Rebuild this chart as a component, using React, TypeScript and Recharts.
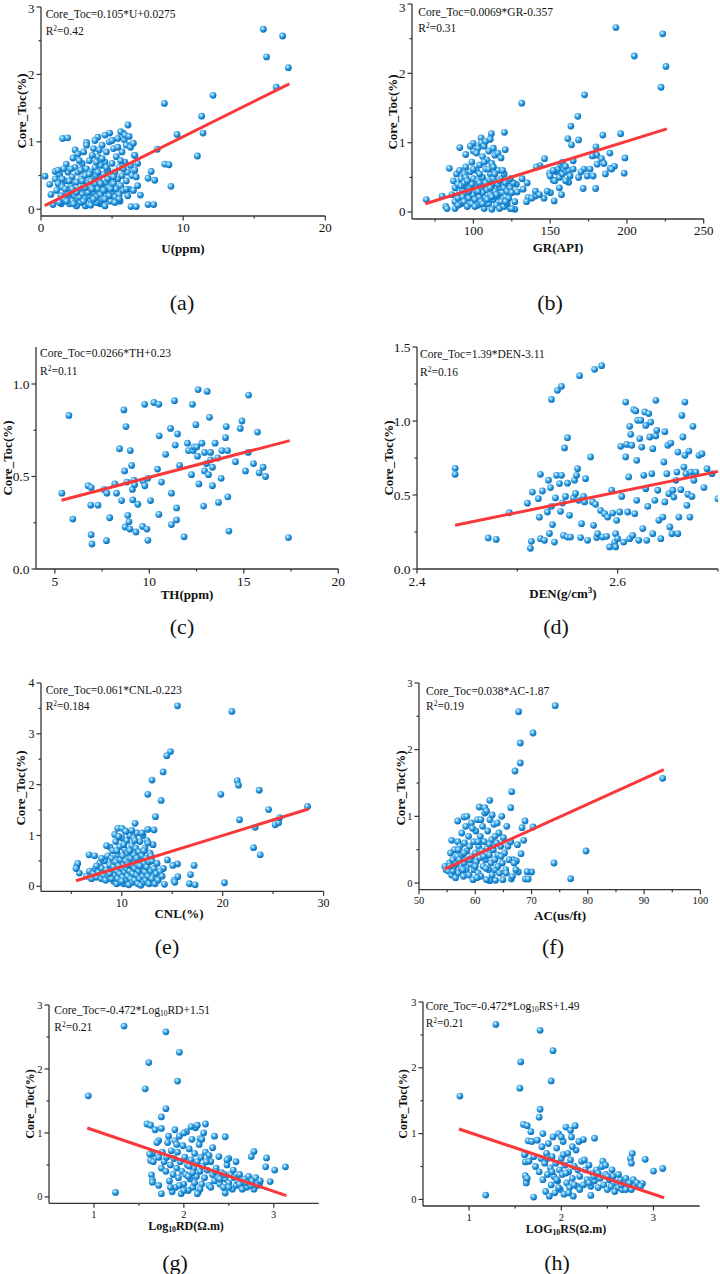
import React from "react";
import { Scatter, ScatterChart, XAxis, YAxis } from "recharts";

const FONT = "'Liberation Serif', 'Times New Roman', serif";

type Pt = [number, number];

// (a) U(ppm) vs Core_Toc
const uToc: Pt[] = [
  [15.64, 2.67], [17.0, 2.57], [15.87, 2.26], [17.4, 2.1], [16.55, 1.81], [12.1, 1.69], [8.68, 1.57],
  [11.3, 1.38], [11.4, 1.13], [9.57, 1.11], [11.0, 0.79], [8.18, 0.89], [8.7, 0.67], [9.0, 0.66],
  [9.14, 0.34], [7.53, 0.46], [7.75, 0.56], [8.0, 0.43], [7.53, 0.07], [7.93, 0.07], [6.99, 0.21],
  [6.57, 0.8], [6.12, 1.25], [0.28, 0.49], [0.61, 0.37], [0.7, 0.22], [0.84, 0.07], [1.52, 1.05],
  [1.88, 1.06], [1.0, 0.56], [1.43, 0.08], [1.78, 0.67], [2.25, 0.76], [3.2, 0.99], [4.0, 1.07],
  [4.83, 1.13], [5.79, 1.13], [5.86, 1.03], [6.35, 0.96], [6.33, 0.04], [6.7, 0.04], [5.56, 0.12],
  [4.17, 0.08], [3.12, 0.05],
  [1.0, 0.45], [1.2, 0.38], [1.3, 0.52], [1.1, 0.28], [1.4, 0.2], [1.5, 0.33], [1.6, 0.15], [1.7, 0.42],
  [1.8, 0.25], [1.9, 0.55], [1.6, 0.6], [2.0, 0.18], [2.1, 0.35], [2.2, 0.12], [2.2, 0.48], [2.3, 0.28],
  [2.4, 0.62], [2.4, 0.2], [2.5, 0.4], [2.6, 0.15], [2.6, 0.55], [2.7, 0.3], [2.8, 0.1], [2.8, 0.45],
  [2.9, 0.22], [2.9, 0.68], [3.0, 0.35], [3.0, 0.85], [3.1, 0.15], [3.1, 0.5], [3.2, 0.28], [3.2, 0.6],
  [3.3, 0.08], [3.3, 0.4], [3.4, 0.2], [3.4, 0.72], [3.5, 0.32], [3.5, 0.55], [3.6, 0.12], [3.6, 0.45],
  [3.7, 0.25], [3.7, 0.9], [3.8, 0.38], [3.8, 0.62], [3.9, 0.18], [3.9, 0.5], [4.0, 0.3], [4.0, 0.78],
  [4.1, 0.1], [4.1, 0.42], [4.2, 0.22], [4.2, 0.65], [4.3, 0.35], [4.3, 0.95], [4.4, 0.15], [4.4, 0.52],
  [4.5, 0.28], [4.5, 0.7], [4.6, 0.4], [4.6, 0.85], [4.7, 0.2], [4.7, 0.58], [4.8, 0.32], [4.8, 1.0],
  [4.9, 0.12], [4.9, 0.48], [5.0, 0.25], [5.0, 0.68], [5.1, 0.38], [5.1, 0.9], [5.2, 0.18], [5.2, 0.55],
  [5.3, 0.3], [5.3, 0.78], [5.4, 0.45], [5.4, 1.05], [5.5, 0.22], [5.5, 0.62], [5.6, 0.35], [5.7, 0.5],
  [5.7, 0.85], [5.8, 0.28], [5.9, 0.7], [6.0, 0.42], [6.0, 0.95], [6.1, 0.55], [6.2, 0.3], [6.3, 0.65],
  [6.4, 0.5], [6.5, 0.28], [6.6, 0.8], [6.7, 0.48], [6.8, 0.68], [1.3, 0.1], [2.0, 0.08], [2.5, 0.05],
  [3.5, 0.06], [4.5, 0.05], [2.7, 0.18], [3.0, 0.12], [3.3, 0.25], [3.6, 0.3], [3.9, 0.1], [4.2, 0.38],
  [4.5, 0.15], [4.8, 0.2], [2.3, 0.08], [1.8, 0.12], [2.1, 0.6], [2.4, 0.88], [2.6, 0.82], [3.2, 0.95],
  [3.8, 1.02], [4.1, 0.88], [4.5, 1.1], [5.0, 1.02], [5.6, 1.15], [5.9, 1.1], [6.2, 1.08], [5.4, 0.92],
  [4.6, 0.62], [3.9, 0.7], [3.4, 0.52], [2.9, 0.42], [2.5, 0.25], [2.2, 0.3], [1.9, 0.22], [1.5, 0.45],
  [1.2, 0.58], [5.8, 0.6], [6.3, 0.92], [6.5, 0.98], [6.8, 0.35], [6.6, 0.58], [6.1, 0.2], [5.5, 0.15],
  [5.2, 0.1], [4.9, 0.3], [4.4, 0.28], [4.0, 0.55], [3.7, 0.15], [3.1, 0.32], [2.8, 0.58], [2.0, 0.42],
  [1.7, 0.3], [4.3, 0.75], [3.6, 0.8], [5.1, 0.48], [4.7, 0.45], [3.5, 0.42], [2.7, 0.72], [5.6, 0.72],
  [6.0, 0.3],
];
const uFit: Pt[] = [[0.26, 0.055], [17.47, 1.86]];

// (b) GR(API)
const grToc: Pt[] = [
  [192.8, 2.66], [223.3, 2.57], [204.8, 2.25], [225.4, 2.1], [222.2, 1.8], [172.4, 1.69], [131.5, 1.57],
  [168, 1.38], [163.5, 1.24], [161.5, 1.06], [163.9, 0.97], [168.5, 1.04], [184.3, 1.11], [195.9, 1.13],
  [179.8, 0.94], [180.4, 0.82], [177.4, 0.81], [188.9, 0.85], [183.5, 0.77], [198.7, 0.78], [198.2, 0.56],
  [191.9, 0.66], [189, 0.63], [180.6, 0.69], [172, 0.62], [168.5, 0.5], [174.1, 0.52], [178, 0.52],
  [171.5, 0.34], [179.6, 0.34], [165, 0.74], [162, 0.43], [157.4, 0.25], [152.6, 0.16], [150.2, 0.28],
  [146.3, 0.77], [143.3, 0.67], [140.4, 0.23], [140.4, 0.3], [146, 0.2], [135.6, 0.21], [134.6, 0.15],
  [132.4, 0.33], [128.5, 0.29], [128, 0.4], [131.7, 0.48], [149.6, 0.56], [152, 0.46], [69.3, 0.18],
  [79.6, 0.23], [82, 0.08], [82.8, 0.05], [84.3, 0.63], [91.1, 0.93], [95, 0.83], [99.8, 0.99],
  [105, 1.07], [111.7, 1.13], [120.2, 1.15], [120.7, 0.9], [124, 0.05], [127, 0.04],
  [86, 0.25], [87, 0.45], [88, 0.15], [88, 0.35], [89, 0.55], [90, 0.2], [90, 0.4], [91, 0.28], [91, 0.6],
  [92, 0.12], [92, 0.48], [93, 0.32], [93, 0.22], [94, 0.55], [94, 0.15], [95, 0.38], [95, 0.65], [96, 0.08],
  [96, 0.28], [97, 0.45], [97, 0.2], [98, 0.58], [98, 0.35], [99, 0.12], [99, 0.72], [100, 0.25], [100, 0.48],
  [100, 0.88], [101, 0.18], [101, 0.38], [102, 0.6], [102, 0.3], [103, 0.1], [103, 0.45], [103, 0.92],
  [104, 0.22], [104, 0.68], [105, 0.35], [105, 0.15], [105, 1.0], [106, 0.5], [106, 0.28], [106, 0.8],
  [107, 0.05], [107, 0.4], [107, 0.95], [108, 0.2], [108, 0.62], [108, 1.02], [109, 0.32], [109, 0.75],
  [110, 0.12], [110, 0.45], [110, 0.88], [111, 0.25], [111, 0.55], [111, 1.05], [112, 0.38], [112, 0.7],
  [112, 0.04], [113, 0.18], [113, 0.48], [113, 0.92], [114, 0.3], [114, 0.82], [115, 0.1], [115, 0.42],
  [116, 0.22], [116, 0.6], [116, 0.85], [117, 0.35], [117, 0.05], [118, 0.48], [118, 0.15], [118, 0.78],
  [119, 0.28], [119, 0.4], [120, 0.08], [120, 0.35], [120, 0.55], [121, 0.22], [121, 0.42], [122, 0.3],
  [122, 0.12], [123, 0.45], [123, 0.2], [124, 0.35], [125, 0.05], [125, 0.28], [126, 0.42], [127, 0.15],
  [98, 0.95], [102, 0.85], [104, 0.42], [109, 0.18], [114, 0.55], [97, 0.3], [101, 0.08], [106, 0.12],
  [110, 0.62], [115, 0.25], [119, 0.6], [92, 0.38], [95, 0.5], [99, 0.4], [104, 0.55], [108, 0.42],
  [112, 0.22], [116, 0.4], [121, 0.15], [124, 0.48], [88, 0.05], [103, 0.3], [107, 0.72], [111, 0.35],
  [113, 0.65], [117, 0.45], [100, 0.62], [94, 0.42], [90, 0.1], [96, 0.45],
  [135, 0.42], [138, 0.2], [141, 0.65], [143, 0.25], [148, 0.3], [150, 0.52], [153, 0.45], [154, 0.58],
  [155, 0.62], [156, 0.5], [157, 0.68], [158, 0.55], [159, 0.62], [160, 0.45], [161, 0.58], [162, 0.6],
  [156, 0.35], [158, 0.72], [160, 0.66], [152, 0.6], [163, 0.52], [165, 0.62], [170, 0.58], [176, 0.62],
  [185, 0.7], [190, 0.62], [186, 0.55],
];
const grFit: Pt[] = [[68.7, 0.12], [226, 1.2]];

// (c) TH(ppm)
const thToc: Pt[] = [
  [5.37, 0.41], [5.74, 0.83], [5.95, 0.27], [6.76, 0.45], [6.92, 0.44], [6.9, 0.345], [6.92, 0.185],
  [6.96, 0.135], [7.28, 0.345], [7.6, 0.43], [7.75, 0.41], [7.73, 0.153], [7.9, 0.277], [8.17, 0.46],
  [8.26, 0.41], [8.42, 0.65], [8.53, 0.37], [8.65, 0.86], [8.69, 0.53], [8.72, 0.227], [8.76, 0.77],
  [8.81, 0.47], [8.86, 0.29], [8.92, 0.255], [8.99, 0.64], [8.97, 0.216], [9.06, 0.56], [9.1, 0.43],
  [9.12, 0.374], [9.18, 0.48], [9.22, 0.455], [9.29, 0.2], [9.39, 0.35], [9.64, 0.23], [9.67, 0.475],
  [9.75, 0.89], [9.76, 0.45], [9.87, 0.216], [9.92, 0.49], [9.92, 0.155], [10.06, 0.37], [10.24, 0.9],
  [10.43, 0.54], [10.5, 0.89], [10.5, 0.295], [10.52, 0.72], [10.64, 0.47], [10.86, 0.62], [11.12, 0.76],
  [11.17, 0.41], [11.17, 0.24], [11.33, 0.91], [11.37, 0.67], [11.44, 0.33], [11.44, 0.265], [11.49, 0.73],
  [11.6, 0.56], [11.84, 0.174], [12.02, 0.68], [12.07, 0.64], [12.23, 0.51], [12.28, 0.89], [12.32, 0.64],
  [12.37, 0.66], [12.46, 0.78], [12.51, 0.66], [12.55, 0.61], [12.58, 0.97], [12.62, 0.46], [12.78, 0.68],
  [12.87, 0.34], [12.92, 0.53], [12.92, 0.63], [13.02, 0.57], [13.06, 0.96], [13.13, 0.51], [13.18, 0.82],
  [13.24, 0.59], [13.24, 0.63], [13.34, 0.55], [13.34, 0.45], [13.48, 0.68], [13.62, 0.6], [13.66, 0.36],
  [13.8, 0.49], [13.84, 0.64], [14.03, 0.71], [14.07, 0.77], [14.14, 0.64], [14.15, 0.39], [14.21, 0.205],
  [14.56, 0.58], [14.81, 0.76], [14.9, 0.8], [15.09, 0.53], [15.25, 0.94], [15.23, 0.63], [15.51, 0.57],
  [15.72, 0.74], [15.81, 0.52], [16.02, 0.55], [16.15, 0.5], [17.36, 0.17],
];
const thFit: Pt[] = [[5.35, 0.372], [17.43, 0.694]];

// (d) DEN(g/cm3)
const denToc: Pt[] = [
  [2.438, 0.68], [2.438, 0.64], [2.471, 0.21], [2.479, 0.2], [2.492, 0.38], [2.51, 0.445], [2.513, 0.14],
  [2.514, 0.187], [2.515, 0.52], [2.521, 0.475], [2.522, 0.35], [2.523, 0.64], [2.523, 0.205], [2.525, 0.527],
  [2.527, 0.194], [2.53, 0.385], [2.531, 0.6], [2.532, 0.24], [2.533, 0.55], [2.534, 0.423], [2.534, 1.146],
  [2.535, 0.3], [2.537, 0.182], [2.538, 0.48], [2.539, 0.633], [2.54, 1.207], [2.542, 0.577], [2.543, 0.39],
  [2.544, 0.633], [2.544, 1.234], [2.545, 0.446], [2.546, 0.227], [2.547, 0.818], [2.548, 0.49], [2.55, 0.887],
  [2.55, 0.216], [2.55, 0.58], [2.552, 0.363], [2.553, 0.216], [2.556, 0.48], [2.557, 0.6], [2.558, 0.51],
  [2.559, 0.633], [2.56, 0.678], [2.561, 0.464], [2.562, 1.306], [2.563, 0.212], [2.564, 0.306], [2.566, 0.49],
  [2.567, 0.453], [2.568, 0.61], [2.57, 0.194], [2.573, 0.757], [2.575, 0.453], [2.576, 0.295], [2.577, 1.349],
  [2.578, 0.437], [2.579, 0.212], [2.58, 0.239], [2.583, 0.396], [2.584, 1.374], [2.585, 0.216], [2.587, 0.374],
  [2.589, 0.221], [2.59, 0.351], [2.592, 0.149], [2.594, 0.532], [2.595, 0.378], [2.597, 0.182], [2.598, 0.239],
  [2.598, 0.149], [2.599, 0.329], [2.6, 0.205], [2.602, 0.385], [2.603, 0.829], [2.604, 0.49], [2.606, 0.182],
  [2.608, 0.757], [2.608, 1.128], [2.609, 0.842], [2.61, 0.385], [2.611, 0.622], [2.612, 0.964], [2.612, 0.205],
  [2.613, 0.91], [2.614, 0.836], [2.615, 0.227], [2.616, 1.077], [2.617, 0.374], [2.618, 1.068], [2.619, 0.734],
  [2.619, 0.464], [2.62, 1.005], [2.621, 0.194], [2.622, 0.881], [2.623, 1.005], [2.624, 0.824], [2.625, 0.273],
  [2.626, 0.633], [2.627, 1.061], [2.628, 0.543], [2.628, 0.97], [2.629, 0.194], [2.63, 0.423], [2.631, 1.05],
  [2.632, 0.892], [2.633, 0.993], [2.634, 0.644], [2.635, 0.239], [2.635, 0.813], [2.637, 0.464], [2.638, 0.899],
  [2.638, 1.14], [2.639, 0.937], [2.64, 0.532], [2.641, 0.329], [2.643, 0.205], [2.645, 0.351], [2.646, 0.723],
  [2.647, 0.453], [2.647, 0.928], [2.649, 0.644], [2.65, 0.836], [2.651, 0.509], [2.652, 0.284], [2.653, 0.851],
  [2.654, 0.239], [2.655, 0.532], [2.656, 0.486], [2.658, 0.599], [2.659, 0.655], [2.66, 0.79], [2.66, 0.239],
  [2.661, 0.351], [2.663, 0.536], [2.664, 1.038], [2.665, 0.892], [2.666, 0.689], [2.667, 1.128], [2.667, 0.768],
  [2.668, 0.644], [2.669, 0.43], [2.67, 0.505], [2.671, 0.797], [2.672, 0.351], [2.673, 0.655], [2.674, 0.49],
  [2.675, 0.964], [2.676, 0.599], [2.678, 0.655], [2.681, 0.768], [2.684, 0.779], [2.686, 0.55], [2.689, 0.678],
  [2.694, 0.644], [2.7, 0.475],
];
const denFit: Pt[] = [[2.438, 0.295], [2.702, 0.662]];

// (e) CNL(%)
const cnlToc: Pt[] = [
  [15.52, 3.55], [20.91, 3.44], [14.83, 2.65], [14.46, 2.57], [14.1, 2.25], [13.0, 2.09], [12.58, 1.81],
  [13.9, 1.69], [13.34, 1.37], [13.2, 1.11], [12.58, 1.12], [11.32, 1.24], [21.44, 2.08], [21.57, 1.99],
  [19.82, 1.81], [23.62, 1.89], [24.55, 1.51], [21.67, 1.31], [23.22, 1.16], [23.06, 0.76], [23.72, 0.62],
  [25.2, 1.21], [25.54, 1.25], [25.64, 1.35], [28.41, 1.57], [20.18, 0.07], [17.17, 0.41], [16.81, 0.23],
  [16.71, 0.05], [17.27, 0.03], [15.55, 0.19], [15.52, 0.44], [15.19, 0.12], [15.26, 0.08], [14.53, 0.52],
  [15.06, 0.41], [14.23, 0.04], [14.13, 0.35], [5.54, 0.39], [5.64, 0.45], [5.8, 0.26], [5.47, 0.35],
  [6.76, 0.62], [7.32, 0.6], [8.84, 0.77], [9.6, 1.14], [10.03, 1.14], [10.33, 1.09],
  [6.5, 0.2], [6.8, 0.3], [7.0, 0.15], [7.2, 0.25], [7.4, 0.35], [7.5, 0.18], [7.7, 0.28], [7.8, 0.45],
  [8.0, 0.15], [8.0, 0.35], [8.2, 0.22], [8.3, 0.5], [8.4, 0.12], [8.5, 0.32], [8.6, 0.6], [8.7, 0.2],
  [8.8, 0.42], [8.9, 0.15], [9.0, 0.3], [9.0, 0.55], [9.1, 0.7], [9.2, 0.1], [9.2, 0.38], [9.3, 0.22],
  [9.4, 0.48], [9.4, 0.88], [9.5, 0.05], [9.5, 0.3], [9.6, 0.62], [9.6, 0.15], [9.7, 0.4], [9.8, 0.25],
  [9.8, 0.78], [9.9, 0.52], [9.9, 0.08], [10.0, 0.35], [10.0, 0.95], [10.1, 0.18], [10.1, 0.6], [10.2, 0.42],
  [10.2, 0.05], [10.3, 0.28], [10.3, 0.72], [10.4, 0.12], [10.4, 0.5], [10.5, 0.35], [10.5, 0.9], [10.6, 0.2],
  [10.6, 0.65], [10.7, 0.45], [10.7, 0.03], [10.8, 0.3], [10.8, 1.0], [10.9, 0.15], [10.9, 0.55], [11.0, 0.4],
  [11.0, 0.8], [11.1, 0.08], [11.1, 0.25], [11.2, 0.62], [11.2, 0.95], [11.3, 0.35], [11.3, 0.12], [11.4, 0.5],
  [11.4, 0.75], [11.5, 0.22], [11.5, 1.05], [11.6, 0.42], [11.6, 0.05], [11.7, 0.3], [11.7, 0.68], [11.8, 0.15],
  [11.8, 0.88], [11.9, 0.5], [11.9, 0.02], [12.0, 0.35], [12.0, 0.6], [12.1, 0.2], [12.1, 1.0], [12.2, 0.45],
  [12.2, 0.08], [12.3, 0.28], [12.3, 0.75], [12.4, 0.55], [12.4, 0.12], [12.5, 0.38], [12.5, 0.9], [12.6, 0.2],
  [12.7, 0.48], [12.7, 0.05], [12.8, 0.65], [12.9, 0.3], [13.0, 0.15], [13.0, 0.5], [13.1, 0.82], [13.2, 0.35],
  [13.3, 0.05], [13.4, 0.25], [13.5, 0.45], [13.6, 0.12], [13.8, 0.3], [14.0, 0.2], [9.3, 1.02], [9.7, 0.98],
  [10.4, 1.08], [11.0, 1.1], [12.0, 1.05], [12.6, 0.85], [8.5, 0.8], [8.0, 0.55], [7.5, 0.4], [10.2, 0.82],
  [11.3, 0.9], [9.0, 0.15], [10.0, 0.1], [10.8, 0.7], [11.8, 0.4], [12.9, 0.6], [8.8, 0.25], [10.6, 0.42],
  [11.5, 0.55], [9.5, 0.7], [12.2, 0.7],
];
const cnlFit: Pt[] = [[5.47, 0.11], [28.5, 1.52]];

// (f) AC(us/ft)
const acToc: Pt[] = [
  [74.2, 2.66], [67.7, 2.57], [70.26, 2.25], [68.0, 2.1], [68.0, 1.8], [67.06, 1.68], [93.3, 1.57],
  [66.47, 1.37], [66.3, 1.13], [62.56, 1.24], [60.7, 1.14], [61.7, 1.13], [68.84, 0.93], [70.26, 0.84],
  [68.3, 0.83], [68.6, 0.64], [68.13, 0.44], [79.68, 0.48], [73.99, 0.3], [76.95, 0.065], [70.0, 0.165],
  [69.2, 0.17], [68.9, 0.06], [69.4, 0.06], [67.65, 0.165], [66.7, 0.35], [66.4, 0.06], [67.3, 0.33],
  [67.5, 0.575], [64.9, 0.05], [63.6, 0.04], [62.56, 0.035], [55.8, 0.64], [56.87, 0.93], [58.0, 0.99],
  [54.7, 0.24],
  [54.6, 0.25], [54.8, 0.2], [55.2, 0.18], [55.4, 0.3], [55.6, 0.45], [55.8, 0.12], [56.0, 0.35], [56.1, 0.22],
  [56.3, 0.5], [56.5, 0.08], [56.6, 0.28], [56.8, 0.4], [56.9, 0.62], [57.0, 0.15], [57.2, 0.35], [57.3, 0.55],
  [57.5, 0.22], [57.6, 0.75], [57.7, 0.42], [57.9, 0.1], [58.0, 0.3], [58.1, 0.6], [58.3, 0.85], [58.4, 0.2],
  [58.5, 0.48], [58.7, 0.35], [58.8, 0.7], [58.9, 0.12], [59.0, 0.55], [59.2, 0.28], [59.3, 0.9], [59.4, 0.4],
  [59.6, 0.05], [59.7, 0.62], [59.8, 0.2], [60.0, 0.45], [60.1, 0.78], [60.2, 0.32], [60.4, 0.95], [60.5, 0.15],
  [60.6, 0.55], [60.8, 0.38], [60.9, 0.7], [61.0, 0.1], [61.2, 0.48], [61.3, 0.85], [61.4, 0.25], [61.6, 0.62],
  [61.7, 1.05], [61.8, 0.35], [62.0, 0.05], [62.1, 0.52], [62.2, 0.78], [62.4, 0.2], [62.5, 0.42], [62.6, 0.95],
  [62.8, 0.3], [62.9, 0.65], [63.0, 0.12], [63.2, 0.5], [63.3, 0.88], [63.5, 0.35], [63.6, 0.2], [63.8, 0.6],
  [64.0, 0.42], [64.2, 0.75], [64.3, 0.15], [64.5, 0.55], [64.7, 1.0], [64.8, 0.3], [65.0, 0.68], [65.2, 0.45],
  [65.4, 0.2], [65.6, 0.85], [65.8, 0.55], [66.0, 0.35], [66.3, 0.62], [66.6, 0.1], [66.9, 0.3], [67.2, 0.2],
  [58.5, 1.0], [59.5, 0.82], [61.0, 0.95], [62.0, 1.08], [63.0, 1.02], [60.0, 0.25], [57.0, 0.5], [56.0, 0.18],
  [59.0, 0.35], [61.5, 0.4], [63.5, 0.7], [64.0, 0.25], [65.5, 0.15], [60.5, 0.62], [62.5, 0.58], [58.0, 0.45],
  [55.5, 0.25], [57.8, 0.2], [63.9, 0.9], [61.9, 0.22], [60.3, 0.08], [64.6, 0.4],
];
const acFit: Pt[] = [[54.56, 0.21], [93.5, 1.7]];

// (g) Log10 RD
const rdToc: Pt[] = [
  [0.937, 1.58], [1.335, 2.67], [1.8, 2.58], [1.95, 2.26], [1.61, 2.1], [1.93, 1.81], [1.57, 1.69],
  [1.8, 1.38], [1.75, 1.25], [1.24, 0.07], [1.59, 1.14], [1.63, 1.12], [1.68, 1.05], [1.75, 1.07],
  [1.75, 0.05], [1.72, 0.88], [1.65, 0.67], [1.63, 0.57], [1.64, 0.345], [1.65, 0.26], [1.65, 0.23],
  [1.72, 0.18], [2.18, 0.91], [2.24, 1.14], [2.34, 0.95], [2.46, 0.94], [2.32, 0.77], [2.39, 0.63],
  [2.46, 0.06], [2.5, 0.6], [2.78, 0.71], [2.75, 0.63], [2.92, 0.61], [2.91, 0.47], [3.01, 0.42],
  [3.13, 0.47], [2.84, 0.2], [2.96, 0.24],
  [1.62, 0.67], [1.66, 0.55], [1.7, 0.85], [1.72, 0.62], [1.75, 0.45], [1.76, 0.7], [1.78, 0.55], [1.8, 0.4],
  [1.81, 0.62], [1.82, 0.85], [1.84, 0.25], [1.85, 0.5], [1.86, 0.72], [1.87, 0.08], [1.88, 0.35], [1.89, 0.6],
  [1.9, 0.88], [1.91, 0.15], [1.92, 0.45], [1.93, 0.7], [1.94, 0.3], [1.95, 0.95], [1.96, 0.55], [1.97, 0.05],
  [1.98, 0.4], [1.99, 0.8], [2.0, 0.2], [2.01, 0.62], [2.02, 0.35], [2.03, 1.02], [2.04, 0.5], [2.05, 0.1],
  [2.06, 0.75], [2.07, 0.28], [2.08, 0.58], [2.09, 0.9], [2.1, 0.15], [2.11, 0.45], [2.12, 0.68], [2.13, 1.08],
  [2.14, 0.32], [2.15, 0.55], [2.16, 0.08], [2.17, 0.82], [2.18, 0.4], [2.19, 0.62], [2.2, 0.2], [2.21, 0.48],
  [2.22, 1.0], [2.23, 0.3], [2.24, 0.7], [2.26, 0.42], [2.28, 0.18], [2.3, 0.55], [2.32, 0.35], [2.34, 0.25],
  [2.36, 0.45], [2.38, 0.3], [2.4, 0.2], [2.42, 0.38], [2.44, 0.15], [2.46, 0.28], [2.48, 0.5], [2.5, 0.22],
  [2.52, 0.35], [2.54, 0.12], [2.56, 0.3], [2.58, 0.18], [2.6, 0.25], [2.62, 0.35], [2.64, 0.15], [2.66, 0.22],
  [2.68, 0.28], [2.7, 0.15], [2.72, 0.32], [2.74, 0.2], [2.76, 0.25], [2.78, 0.12], [2.8, 0.3], [2.82, 0.18],
  [2.85, 0.25], [1.83, 0.95], [1.9, 1.05], [2.0, 1.0], [2.08, 1.1], [2.15, 1.12], [2.2, 0.9], [1.95, 0.18],
  [2.05, 0.32], [2.12, 0.22], [2.18, 0.12], [1.92, 0.82], [2.1, 0.38], [2.25, 0.55], [2.35, 0.4], [2.45, 0.35],
  [2.55, 0.42], [2.62, 0.2], [2.7, 0.22], [2.15, 0.05], [2.0, 0.1], [1.85, 0.15], [2.3, 0.15], [2.5, 0.15],
  [2.65, 0.12], [2.58, 0.55], [2.48, 0.58], [2.75, 0.18], [2.4, 0.28], [2.28, 0.65], [2.06, 0.48],
];
const rdFit: Pt[] = [[0.926, 1.077], [3.14, 0.02]];

// (h) LOG10 RS
const rsToc: Pt[] = [
  [0.9, 1.57], [1.29, 2.66], [1.77, 2.57], [1.91, 2.26], [1.56, 2.09], [1.89, 1.8], [1.55, 1.69],
  [1.77, 1.37], [1.76, 1.25], [1.18, 0.066], [2.32, 0.06], [1.7, 0.036], [3.0, 0.43], [3.1, 0.47],
  [2.91, 0.61], [2.77, 0.7], [2.36, 0.93], [2.24, 0.91], [1.59, 1.14], [1.63, 1.12], [1.67, 1.03],
  [1.64, 0.89], [1.61, 0.69], [1.61, 0.57], [1.61, 0.36], [1.62, 0.28], [2.75, 0.62], [2.76, 0.55],
  [2.88, 0.24], [2.45, 0.58],
  [1.6, 0.68], [1.62, 0.25], [1.63, 0.32], [1.65, 0.58], [1.68, 0.88], [1.7, 0.65], [1.72, 0.5], [1.74, 0.9],
  [1.76, 0.42], [1.78, 0.62], [1.79, 0.8], [1.8, 0.3], [1.82, 0.55], [1.83, 0.12], [1.84, 0.7], [1.85, 0.38],
  [1.86, 0.85], [1.87, 0.05], [1.88, 0.48], [1.89, 0.22], [1.9, 0.65], [1.91, 0.95], [1.92, 0.35], [1.93, 0.1],
  [1.94, 0.55], [1.95, 0.78], [1.96, 0.28], [1.97, 1.0], [1.98, 0.45], [1.99, 0.15], [2.0, 0.62], [2.01, 0.38],
  [2.02, 0.88], [2.03, 0.08], [2.04, 0.52], [2.05, 1.1], [2.06, 0.25], [2.07, 0.7], [2.08, 0.42], [2.09, 0.18],
  [2.1, 0.6], [2.11, 0.95], [2.12, 0.32], [2.13, 0.05], [2.14, 0.5], [2.15, 1.12], [2.16, 0.75], [2.17, 0.2],
  [2.18, 0.45], [2.19, 0.88], [2.2, 0.35], [2.22, 0.58], [2.24, 0.22], [2.26, 0.45], [2.28, 0.3], [2.3, 0.52],
  [2.32, 0.2], [2.34, 0.4], [2.36, 0.28], [2.38, 0.45], [2.4, 0.18], [2.42, 0.32], [2.44, 0.5], [2.46, 0.22],
  [2.48, 0.38], [2.5, 0.15], [2.52, 0.3], [2.54, 0.2], [2.56, 0.35], [2.58, 0.12], [2.6, 0.25], [2.62, 0.18],
  [2.64, 0.3], [2.66, 0.15], [2.68, 0.22], [2.7, 0.32], [2.72, 0.18], [2.74, 0.25], [2.76, 0.15], [2.78, 0.3],
  [2.8, 0.2], [2.82, 0.25], [2.86, 0.2], [1.97, 0.18], [2.08, 0.1], [2.14, 0.22], [1.9, 0.42], [2.02, 0.68],
  [2.2, 0.15], [2.25, 0.6], [2.48, 0.52], [2.55, 0.45], [2.35, 0.35], [2.62, 0.38], [2.7, 0.15], [2.05, 0.4],
  [1.85, 0.62], [2.12, 0.8], [2.0, 0.95], [1.8, 1.0], [2.1, 1.05], [2.4, 0.4], [2.65, 0.22], [2.3, 0.25],
  [2.5, 0.35], [1.95, 0.3],
];
const rsFit: Pt[] = [[0.89, 1.07], [3.115, 0.025]];

const toXY = (pts: Pt[]) => pts.map(([x, y]) => ({ x, y }));

type PanelCfg = {
  pts: Pt[];
  fit: Pt[];
  plot: { l: number; t: number; r: number; b: number };
  xDomain: [number, number];
  yDomain: [number, number];
  xMajor: number[];
  xMinor: number[];
  yMajor: number[];
  yMinor: number[];
  dec: [number, number];
  tickFont: number;
  titleFont: number;
  xTitle: React.ReactNode;
  xTitleAt: [number, number];
  yTitleAt: [number, number];
  eq: React.ReactNode;
  r2: string;
  eqAt: [number, number, number];
  caption: string;
  capAt: [number, number];
};

const yMajor3 = [0, 1, 2, 3];
const yMinor3 = [0.5, 1.5, 2.5];
const sub10 = <sub style={{ fontSize: "0.65em", verticalAlign: "-0.25em" }}>10</sub>;

const panels: PanelCfg[] = [
  {
    pts: uToc, fit: uFit, plot: { l: 40.7, t: 6.7, r: 325, b: 215.7 },
    xDomain: [0, 20], yDomain: [-0.1, 3], xMajor: [0, 10, 20], xMinor: [5, 15],
    yMajor: yMajor3, yMinor: yMinor3, dec: [0, 0], tickFont: 13, titleFont: 13,
    xTitle: "U(ppm)", xTitleAt: [183, 248], yTitleAt: [20.7, 111],
    eq: "Core_Toc=0.105*U+0.0275", r2: "0.42", eqAt: [45.7, 15, 30.7], caption: "(a)", capAt: [182, 303],
  },
  {
    pts: grToc, fit: grFit, plot: { l: 412.3, t: 4, r: 704, b: 219 },
    xDomain: [60, 250], yDomain: [-0.1, 3], xMajor: [100, 150, 200, 250], xMinor: [75, 125, 175, 225],
    yMajor: yMajor3, yMinor: yMinor3, dec: [0, 0], tickFont: 13, titleFont: 13,
    xTitle: "GR(API)", xTitleAt: [558, 246.7], yTitleAt: [391.5, 111.5],
    eq: "Core_Toc=0.0069*GR-0.357", r2: "0.31", eqAt: [418.3, 12.7, 28.3], caption: "(b)", capAt: [550, 303],
  },
  {
    pts: thToc, fit: thFit, plot: { l: 36, t: 346.7, r: 338.3, b: 568.7 },
    xDomain: [4, 20], yDomain: [0, 1.2], xMajor: [5, 10, 15, 20], xMinor: [7.5, 12.5, 17.5],
    yMajor: [0, 0.5, 1], yMinor: [0.25, 0.75], dec: [0, 1], tickFont: 13.5, titleFont: 13,
    xTitle: "TH(ppm)", xTitleAt: [187, 594], yTitleAt: [7, 457.7],
    eq: "Core_Toc=0.0266*TH+0.23", r2: "0.11", eqAt: [40, 354.3, 371], caption: "(c)", capAt: [182, 627],
  },
  {
    pts: denToc, fit: denFit, plot: { l: 417.3, t: 346.7, r: 718.3, b: 568.7 },
    xDomain: [2.4, 2.7], yDomain: [0, 1.5], xMajor: [2.4, 2.6], xMinor: [2.5, 2.7],
    yMajor: [0, 0.5, 1, 1.5], yMinor: [0.25, 0.75, 1.25], dec: [1, 1], tickFont: 13.5, titleFont: 13,
    xTitle: <>DEN(g/cm<sup style={{ fontSize: "0.7em", verticalAlign: "0.45em" }}>3</sup>)</>,
    xTitleAt: [563, 593.3], yTitleAt: [387.5, 457.7],
    eq: "Core_Toc=1.39*DEN-3.11", r2: "0.16", eqAt: [420, 355, 371.7], caption: "(d)", capAt: [556, 627],
  },
  {
    pts: cnlToc, fit: cnlFit, plot: { l: 40.7, t: 683.3, r: 323.3, b: 891.7 },
    xDomain: [2, 30], yDomain: [-0.1, 4], xMajor: [10, 20, 30], xMinor: [5, 15, 25],
    yMajor: [0, 1, 2, 3, 4], yMinor: [0.5, 1.5, 2.5, 3.5], dec: [0, 0], tickFont: 12, titleFont: 13,
    xTitle: "CNL(%)", xTitleAt: [179, 912.7], yTitleAt: [20, 787.5],
    eq: "Core_Toc=0.061*CNL-0.223", r2: "0.184", eqAt: [45.7, 691, 706], caption: "(e)", capAt: [167, 947],
  },
  {
    pts: acToc, fit: acFit, plot: { l: 419.3, t: 683.3, r: 700.7, b: 890 },
    xDomain: [50, 100], yDomain: [-0.1, 3], xMajor: [50, 60, 70, 80, 90, 100], xMinor: [55, 65, 75, 85, 95],
    yMajor: yMajor3, yMinor: yMinor3, dec: [0, 0], tickFont: 10.5, titleFont: 13,
    xTitle: "AC(us/ft)", xTitleAt: [560, 915], yTitleAt: [400, 788],
    eq: "Core_Toc=0.038*AC-1.87", r2: "0.19", eqAt: [426, 691.7, 706], caption: "(f)", capAt: [553, 947],
  },
  {
    pts: rdToc, fit: rdFit, plot: { l: 49.3, t: 1005, r: 319, b: 1203.3 },
    xDomain: [0.5, 3.5], yDomain: [-0.1, 3], xMajor: [1, 2, 3], xMinor: [1.5, 2.5],
    yMajor: yMajor3, yMinor: yMinor3, dec: [0, 0], tickFont: 10.5, titleFont: 12,
    xTitle: <>Log{sub10}RD(Ω.m)</>, xTitleAt: [186, 1227.3], yTitleAt: [30, 1104],
    eq: <>Core_Toc=-0.472*Log{sub10}RD+1.51</>, r2: "0.21", eqAt: [54.3, 1010.7, 1027.3],
    caption: "(g)", capAt: [175, 1263],
  },
  {
    pts: rsToc, fit: rsFit, plot: { l: 422.7, t: 1001.7, r: 699.3, b: 1205.7 },
    xDomain: [0.5, 3.5], yDomain: [-0.1, 3], xMajor: [1, 2, 3], xMinor: [1.5, 2.5],
    yMajor: yMajor3, yMinor: yMinor3, dec: [0, 0], tickFont: 10.5, titleFont: 12,
    xTitle: <>LOG{sub10}RS(Ω.m)</>, xTitleAt: [566, 1230], yTitleAt: [403.3, 1103.7],
    eq: <>Core_Toc=-0.472*Log{sub10}RS+1.49</>, r2: "0.21", eqAt: [425.7, 1006.7, 1023.3],
    caption: "(h)", capAt: [557, 1263],
  },
];

const AXIS = "#333";
const isIn = (list: number[], v: number) => list.some((m) => Math.abs(m - v) < 1e-9);

const Ball = (props: any) => (
  <circle cx={props.cx} cy={props.cy} r={3.4} fill="url(#ballGrad)" />
);

function Panel({ p }: { p: PanelCfg }) {
  const YW = 40, MT = 10, MR = 16, XH = 30;
  const w = p.plot.r - p.plot.l;
  const h = p.plot.b - p.plot.t;
  const fs = p.tickFont;
  // lowest baseline that keeps a label inside the page top
  const minBase = MT - p.plot.t + fs * 0.95;

  const xTick = (props: any) => {
    const { x, y, payload } = props;
    const major = isIn(p.xMajor, payload.value);
    const len = major ? 4.5 : 2.5;
    return (
      <g>
        <line x1={x} y1={y} x2={x} y2={y + len} stroke={AXIS} strokeWidth={1.2} />
        {major && (
          <text x={x} y={y + len + 3 + fs * 0.68} textAnchor="middle" fontSize={fs} fontFamily={FONT} fill="#111">
            {payload.value.toFixed(p.dec[0])}
          </text>
        )}
      </g>
    );
  };

  const yTick = (props: any) => {
    const { x, y, payload } = props;
    const major = isIn(p.yMajor, payload.value);
    const len = major ? 4.5 : 2.5;
    return (
      <g>
        <line x1={x} y1={y} x2={x - len} y2={y} stroke={AXIS} strokeWidth={1.2} />
        {major && (
          <text
            x={x - len - 2}
            y={Math.max(y + fs * 0.34, minBase)}
            textAnchor="end"
            fontSize={fs}
            fontFamily={FONT}
            fill="#111"
          >
            {payload.value.toFixed(p.dec[1])}
          </text>
        )}
      </g>
    );
  };

  return (
    <>
      <div style={{ position: "absolute", left: p.plot.l - YW, top: p.plot.t - MT }}>
        <ScatterChart
          width={YW + w + MR}
          height={MT + h + XH}
          margin={{ top: MT, right: MR, bottom: 0, left: 0 }}
        >
          <XAxis
            type="number"
            dataKey="x"
            domain={p.xDomain}
            allowDataOverflow
            ticks={[...p.xMajor, ...p.xMinor]}
            interval={0}
            height={XH}
            tickSize={0}
            tickMargin={0}
            tickLine={false}
            axisLine={{ stroke: AXIS, strokeWidth: 1.3 }}
            tick={xTick}
          />
          <YAxis
            type="number"
            dataKey="y"
            domain={p.yDomain}
            allowDataOverflow
            ticks={[...p.yMajor, ...p.yMinor]}
            interval={0}
            width={YW}
            tickSize={0}
            tickMargin={0}
            tickLine={false}
            axisLine={{ stroke: AXIS, strokeWidth: 1.3 }}
            tick={yTick}
          />
          <Scatter data={toXY(p.pts)} shape={Ball} isAnimationActive={false} />
          <Scatter
            data={toXY(p.fit)}
            line={{ stroke: "#f8383a", strokeWidth: 3 }}
            shape={() => <g />}
            isAnimationActive={false}
          />
        </ScatterChart>
      </div>

      {/* equation + R2, top-left inside the frame */}
      <div style={{ ...txt, left: p.eqAt[0], top: p.eqAt[1], fontSize: 11.5 }}>{p.eq}</div>
      <div style={{ ...txt, left: p.eqAt[0], top: p.eqAt[2], fontSize: 11.5 }}>
        R<sup style={{ fontSize: "0.65em", verticalAlign: "0.5em" }}>2</sup>={p.r2}
      </div>

      {/* axis titles */}
      <div
        style={{
          ...txt, left: p.xTitleAt[0], top: p.xTitleAt[1], fontSize: p.titleFont,
          fontWeight: "bold", transform: "translate(-50%, -50%)",
        }}
      >
        {p.xTitle}
      </div>
      <div
        style={{
          ...txt, left: p.yTitleAt[0], top: p.yTitleAt[1], fontSize: p.titleFont,
          fontWeight: "bold", transform: "translate(-50%, -50%) rotate(-90deg)",
        }}
      >
        Core_Toc(%)
      </div>

      <div style={{ ...txt, left: p.capAt[0], top: p.capAt[1], fontSize: 22, transform: "translate(-50%, -50%)" }}>
        {p.caption}
      </div>
    </>
  );
}

const txt: React.CSSProperties = {
  position: "absolute",
  fontFamily: FONT,
  color: "#111",
  lineHeight: 1,
  whiteSpace: "nowrap",
  transform: "translateY(-50%)",
};

export default function App() {
  return (
    <div
      style={{
        position: "absolute", left: 0, top: 0, width: 720, height: 1274,
        overflow: "hidden", background: "#fff",
      }}
    >
      <svg width={0} height={0} style={{ position: "absolute" }}>
        <defs>
          <radialGradient id="ballGrad" cx="38%" cy="35%" r="65%">
            <stop offset="0%" stopColor="#f2faff" />
            <stop offset="30%" stopColor="#6fc2f2" />
            <stop offset="65%" stopColor="#1f8fd8" />
            <stop offset="100%" stopColor="#0b6cb4" />
          </radialGradient>
        </defs>
      </svg>
      {panels.map((p) => (
        <Panel key={p.caption} p={p} />
      ))}
    </div>
  );
}
